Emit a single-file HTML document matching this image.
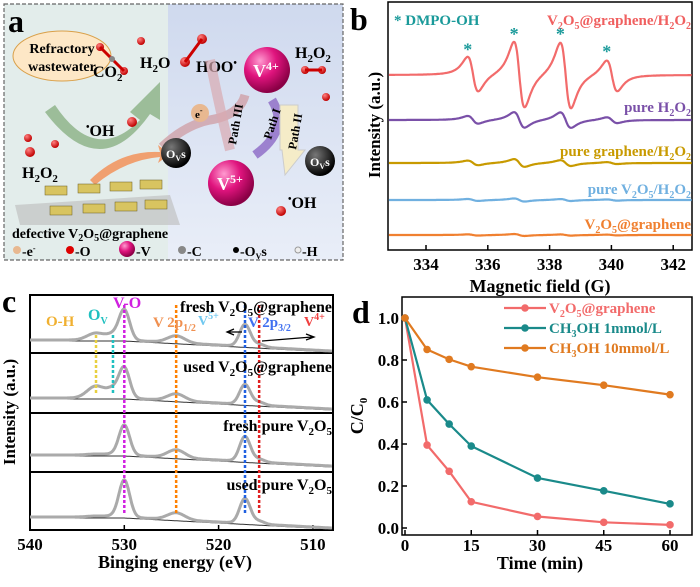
<!DOCTYPE html>
<html><head><meta charset="utf-8"><style>
body{margin:0;background:#fff}
svg{font-family:"Liberation Serif",serif;font-weight:bold}
</style></head><body>
<svg id="fig" width="700" height="582" viewBox="0 0 700 582" xmlns="http://www.w3.org/2000/svg" font-weight="bold">
<defs>
<radialGradient id="vg" cx="35%" cy="30%" r="70%"><stop offset="0" stop-color="#ff9ad0"/><stop offset="0.5" stop-color="#e0147e"/><stop offset="1" stop-color="#8a0045"/></radialGradient>
<radialGradient id="og" cx="35%" cy="30%" r="70%"><stop offset="0" stop-color="#ff8080"/><stop offset="1" stop-color="#c00000"/></radialGradient>
<radialGradient id="bg" cx="35%" cy="30%" r="70%"><stop offset="0" stop-color="#777"/><stop offset="1" stop-color="#000"/></radialGradient>
<linearGradient id="rb" x1="0" y1="0" x2="0" y2="1"><stop offset="0" stop-color="#cfd9ee"/><stop offset="1" stop-color="#e9eef8"/></linearGradient>
</defs>
<!-- Panel a -->
<g>
<rect x="4" y="4" width="164" height="256" fill="#e3edeb"/>
<rect x="168" y="4" width="175" height="256" fill="url(#rb)"/>
<rect x="4" y="4" width="339" height="256" fill="none" stroke="#666" stroke-dasharray="4,2" stroke-width="1.2"/>
<text x="8" y="32" font-size="32">a</text>
<ellipse cx="62" cy="56" rx="49" ry="25" fill="#fde7c6" stroke="#d9a04a"/>
<text x="62" y="53" font-size="14" text-anchor="middle">Refractory</text>
<text x="62" y="71" font-size="14" text-anchor="middle">wastewater</text>
<path d="M55,105 Q95,165 140,120 L130,112 L160,82 L160,120 L150,114 Q100,185 45,112 Z" fill="#8fb48b" opacity="0.85"/>
<path d="M90,180 Q120,150 160,152 L158,145 L170,154 L158,163 L160,157 Q125,160 95,185 Z" fill="#f0a070"/>
<text x="93" y="77" font-size="16">CO<tspan font-size="11" dy="4">2</tspan></text>
<text x="140" y="68" font-size="16">H<tspan font-size="11" dy="4">2</tspan><tspan dy="-4">O</tspan></text>
<text x="196" y="72" font-size="16">HOO<tspan font-size="10" dy="-6">•</tspan></text>
<text x="86" y="136" font-size="16"><tspan font-size="10" dy="-6">•</tspan><tspan dy="6">OH</tspan></text>
<text x="22" y="178" font-size="16">H<tspan font-size="11" dy="4">2</tspan><tspan dy="-4">O</tspan><tspan font-size="11" dy="4">2</tspan></text>
<text x="295" y="58" font-size="16">H<tspan font-size="11" dy="4">2</tspan><tspan dy="-4">O</tspan><tspan font-size="11" dy="4">2</tspan></text>
<text x="288" y="208" font-size="16"><tspan font-size="10" dy="-6">•</tspan><tspan dy="6">OH</tspan></text>
<g fill="url(#og)">
<circle cx="100" cy="47" r="4"/><circle cx="124" cy="71" r="4"/><circle cx="141" cy="41" r="4"/><circle cx="185" cy="62" r="5"/><circle cx="202" cy="39" r="5"/>
<circle cx="132" cy="122" r="5"/><circle cx="30" cy="152" r="5"/><circle cx="28" cy="138" r="4"/><circle cx="55" cy="144" r="4"/>
<circle cx="305" cy="70" r="4"/><circle cx="322" cy="70" r="4"/><circle cx="326" cy="97" r="4"/><circle cx="281" cy="211" r="5"/>
</g>
<path d="M100,47 L124,71 M185,62 L202,39 M305,70 L322,70" stroke="#c00" stroke-width="3"/>
<circle cx="112" cy="59" r="3" fill="#888"/>
<path d="M162,147 Q185,125 210,120 Q240,115 245,95" stroke="#d0a0a8" stroke-width="9" fill="none" opacity="0.8"/>
<path d="M210,60 Q220,110 230,150" stroke="#d8aab0" stroke-width="10" fill="none" opacity="0.7"/>
<path d="M272,100 Q290,130 255,155" stroke="#9070c8" stroke-width="9" fill="none" opacity="0.85"/>
<path d="M280,105 L298,105 L298,150 L305,150 L285,175 L282,150 L280,150 Z" fill="#f5ecc8" stroke="#ccc"/>
<text transform="translate(236,145) rotate(-80)" font-size="12">Path III</text>
<text transform="translate(271,140) rotate(-72)" font-size="12">Path I</text>
<text transform="translate(296,150) rotate(-80)" font-size="12">Path II</text>
<circle cx="200" cy="113" r="9" fill="#e8b890"/><text x="195" y="118" font-size="11">e<tspan font-size="8" dy="-5">-</tspan></text>
<circle cx="176" cy="153" r="15" fill="url(#bg)"/><text x="166" y="158" font-size="12" fill="#fff">O<tspan font-size="8" dy="3">V</tspan><tspan dy="-3">s</tspan></text>
<circle cx="320" cy="161" r="15" fill="url(#bg)"/><text x="310" y="166" font-size="12" fill="#fff">O<tspan font-size="8" dy="3">V</tspan><tspan dy="-3">s</tspan></text>
<circle cx="267" cy="70" r="23" fill="url(#vg)"/><text x="253" y="77" font-size="18" fill="#fff">V<tspan font-size="12" dy="-7">4+</tspan></text>
<circle cx="231" cy="183" r="23" fill="url(#vg)"/><text x="217" y="190" font-size="18" fill="#fff">V<tspan font-size="12" dy="-7">5+</tspan></text>
<path d="M15,205 L170,195 L180,225 L20,225 Z" fill="#bbb" opacity="0.6"/>
<g fill="#d8c460" stroke="#6a5a20" stroke-width="0.5">
<rect x="45" y="186" width="22" height="9"/><rect x="78" y="184" width="22" height="9"/><rect x="110" y="182" width="22" height="9"/><rect x="140" y="180" width="22" height="9"/>
<rect x="50" y="206" width="22" height="9"/><rect x="83" y="204" width="22" height="9"/><rect x="115" y="202" width="22" height="9"/><rect x="145" y="200" width="22" height="9"/>
</g>
<text x="12" y="238" font-size="14">defective V<tspan font-size="10" dy="3">2</tspan><tspan dy="-3">O</tspan><tspan font-size="10" dy="3">5</tspan><tspan dy="-3">@graphene</tspan></text>
<g font-size="14">
<circle cx="17" cy="250" r="4" fill="#e8b890"/><text x="22" y="256">-e<tspan font-size="8" dy="-5">-</tspan></text>
<circle cx="70" cy="250" r="4" fill="#d00"/><text x="75" y="256">-O</text>
<circle cx="127" cy="249" r="8" fill="url(#vg)"/><text x="136" y="256">-V</text>
<circle cx="182" cy="250" r="4" fill="#888"/><text x="187" y="256">-C</text>
<circle cx="236" cy="250" r="3" fill="#000"/><text x="240" y="256">-O<tspan font-size="8" dy="3">V</tspan><tspan dy="-3">s</tspan></text>
<circle cx="298" cy="250" r="3" fill="#eee" stroke="#999"/><text x="302" y="256">-H</text>
</g>
</g>

<!-- Panel b -->
<g id="pb">
<text x="350" y="30" font-size="32">b</text>
<rect x="388" y="2" width="304" height="248" fill="none" stroke="#000" stroke-width="1.5"/>
<text transform="translate(380,125) rotate(-90)" font-size="17" text-anchor="middle">Intensity (a.u.)</text>
<text x="540" y="292" font-size="18" text-anchor="middle">Magnetic field (G)</text>
<text x="394" y="25" font-size="15" fill="#1a9a9a">* DMPO-OH</text>
<text x="691" y="25" font-size="15" fill="#f06060" text-anchor="end">V<tspan font-size="10" dy="4">2</tspan><tspan dy="-4">O</tspan><tspan font-size="10" dy="4">5</tspan><tspan dy="-4">@graphene/H</tspan><tspan font-size="10" dy="4">2</tspan><tspan dy="-4">O</tspan><tspan font-size="10" dy="4">2</tspan></text>
<text x="691" y="112" font-size="15" fill="#7a50a8" text-anchor="end">pure H<tspan font-size="10" dy="4">2</tspan><tspan dy="-4">O</tspan><tspan font-size="10" dy="4">2</tspan></text>
<text x="691" y="156" font-size="15" fill="#c89a00" text-anchor="end">pure graphene/H<tspan font-size="10" dy="4">2</tspan><tspan dy="-4">O</tspan><tspan font-size="10" dy="4">2</tspan></text>
<text x="691" y="194" font-size="15" fill="#70b0e0" text-anchor="end">pure V<tspan font-size="10" dy="4">2</tspan><tspan dy="-4">O</tspan><tspan font-size="10" dy="4">5</tspan><tspan dy="-4">/H</tspan><tspan font-size="10" dy="4">2</tspan><tspan dy="-4">O</tspan><tspan font-size="10" dy="4">2</tspan></text>
<text x="691" y="229" font-size="15" fill="#f08030" text-anchor="end">V<tspan font-size="10" dy="4">2</tspan><tspan dy="-4">O</tspan><tspan font-size="10" dy="4">5</tspan><tspan dy="-4">@graphene</tspan></text>
</g>

<!-- Panel c -->
<g id="pc">
<text x="2" y="312" font-size="32">c</text>
<text transform="translate(15,412) rotate(-90)" font-size="17" text-anchor="middle">Intensity (a.u.)</text>
<text x="175" y="568" font-size="18" text-anchor="middle">Binging energy (eV)</text>
</g>

<!-- Panel d -->
<g id="pd">
<text x="352" y="323" font-size="32">d</text>
<rect x="402" y="297" width="290" height="238" fill="none" stroke="#000" stroke-width="1.5"/>
<text transform="translate(363,416) rotate(-90)" font-size="18" text-anchor="middle">C/C<tspan font-size="11" dy="4">0</tspan></text>
<text x="540" y="569" font-size="18" text-anchor="middle">Time (min)</text>
</g>
</svg>
<script>
const NS="http://www.w3.org/2000/svg";
function mk(t,a,p){const e=document.createElementNS(NS,t);for(const k in a)e.setAttribute(k,a[k]);p.appendChild(e);return e;}
// ---------- Panel b data ----------
const eprTicks=[334,336,338,340,342];
const eprNames=["V2O5@graphene/H2O2","pure H2O2","pure graphene/H2O2","pure V2O5/H2O2","V2O5@graphene"];
const eprColors=["#f26b6b","#7a50a8","#c89a00","#70b0e0","#f08030"];
const eprOffsets=[75,120,163,200,235];
const eprPeakPos=[335.35,336.85,338.35,339.85];
const eprAmps=[[9,17,17,8],[2,4,4,1.5],[1.2,2,1.5,0.5],[0.5,0.8,0.5,0.3],[0.3,0.5,0.3,0.2]];
const bx=v=>388+(v-332.77)*30.9;
const pb=document.getElementById('pb');
eprTicks.forEach(t=>{
 const l=mk('line',{x1:bx(t),x2:bx(t),y1:250,y2:245,stroke:'#000','stroke-width':1.5},pb);
 
 const tx=mk('text',{x:bx(t),y:270,'font-size':17,'text-anchor':'middle'},pb);tx.textContent=t;
 
});
eprNames.forEach((n,i)=>{
 let d='';
 for(let v=332.8;v<=342.6;v+=0.02){
  let y=0;
  eprPeakPos.forEach((p,j)=>{const u=(v-p-0.17)/0.3;y+=eprAmps[i][j]*(-2*u)/Math.pow(1+u*u,2);});
  d+=(d?'L':'M')+bx(v).toFixed(1)+','+(eprOffsets[i]-y*3).toFixed(1);
 }
 const p=mk('path',{d:d,fill:'none',stroke:eprColors[i],'stroke-width':2.2},pb);
 
});
eprPeakPos.forEach((p,j)=>{
 const s=mk('text',{x:bx(p),y:eprOffsets[0]-eprAmps[0][j]*1.95-2,'font-size':18,fill:'#1a9a9a','text-anchor':'middle'},pb);s.textContent='*';
 
});
// ---------- Panel c data ----------
const xpsTicks=[540,530,520,510];
const xpsNames=["fresh V2O5@graphene","used V2O5@graphene","fresh pure V2O5","used pure V2O5"];
const xpsBase=[340,398,455,517];
const xpsVO=[30,30,30,37];
const xpsOH=[7,12,1,1];
const xpsOv=[5,8,1,1];
const xpsP12=[7,7,8,7];
const xpsP32=[22,20,25,25];
const xpsVlines=[533,531.2,530,524.5,517.2,515.7];
const xpsVcolors=["#e8d040","#20c0c0","#d020e0","#ff8000","#2060e0","#e02020"];
const cx=e=>30+(540-e)*9.43;
const pc=document.getElementById('pc');
mk('rect',{x:30,y:295,width:303,height:235,fill:'none',stroke:'#000','stroke-width':2},pc);
[353,413,472].forEach(y=>mk('line',{x1:30,x2:333,y1:y,y2:y,stroke:'#000','stroke-width':2},pc));
xpsTicks.forEach(t=>{
 const l=mk('line',{x1:cx(t),x2:cx(t),y1:530,y2:525,stroke:'#000','stroke-width':1.5},pc);
 
 const tx=mk('text',{x:cx(t),y:550,'font-size':17,'text-anchor':'middle'},pc);tx.textContent=t;
 
});
const g=(e,c,w)=>Math.exp(-Math.pow((e-c)/w,2));
xpsNames.forEach((n,i)=>{
 let d='',bd='';
 for(let e=540;e>=507.9;e-=0.1){
  const base=xpsBase[i]+(e<530?(530-e)/14*7:0);
  const y=base-xpsVO[i]*g(e,530,0.8)-xpsOH[i]*g(e,533,1.3)-xpsOv[i]*g(e,531.2,0.9)-xpsP12[i]*g(e,524.5,1.3)-xpsP32[i]*g(e,517.2,0.8)-3*g(e,515.7,0.8);
  d+=(d?'L':'M')+cx(e).toFixed(1)+','+y.toFixed(1);
  bd+=(bd?'L':'M')+cx(e).toFixed(1)+','+(base+1).toFixed(1);
 }
 mk('path',{d:bd,fill:'none',stroke:'#333','stroke-width':1},pc);
 const p=mk('path',{d:d,fill:'none',stroke:'#aaa','stroke-width':3},pc);
 
});
xpsVlines.forEach((v,i)=>{
 const l=mk('line',{x1:cx(v),x2:cx(v),y1:i<2?335:305,y2:i<2?395:515,stroke:xpsVcolors[i],'stroke-width':2.5,'stroke-dasharray':'3,2'},pc);
 
});
const lbl=[["fresh V<tspan font-size='11' dy='4'>2</tspan><tspan dy='-4'>O</tspan><tspan font-size='11' dy='4'>5</tspan><tspan dy='-4'>@graphene</tspan>",312],["used V<tspan font-size='11' dy='4'>2</tspan><tspan dy='-4'>O</tspan><tspan font-size='11' dy='4'>5</tspan><tspan dy='-4'>@graphene</tspan>",372],["fresh pure V<tspan font-size='11' dy='4'>2</tspan><tspan dy='-4'>O</tspan><tspan font-size='11' dy='4'>5</tspan>",431],["used pure V<tspan font-size='11' dy='4'>2</tspan><tspan dy='-4'>O</tspan><tspan font-size='11' dy='4'>5</tspan>",490]];
lbl.forEach(a=>{const t=mk('text',{x:332,y:a[1],'font-size':16,'text-anchor':'end'},pc);t.innerHTML=a[0];
 });
const ann=[["V-O",113,308,"#d020e0",16],["O<tspan font-size='10' dy='4'>V</tspan>",88,320,"#20c0c0",16],["O-H",46,326,"#f0b030",15],["V 2p<tspan font-size='10' dy='4'>1/2</tspan>",153,327,"#f09050",15],["V<tspan font-size='10' dy='-6'>5+</tspan>",198,325,"#70c8f0",14],["V 2p<tspan font-size='10' dy='4'>3/2</tspan>",248,327,"#4070f0",15],["V<tspan font-size='10' dy='-6'>4+</tspan>",304,326,"#f04040",14]];
ann.forEach(a=>{const t=mk('text',{x:a[1],y:a[2],'font-size':a[4],fill:a[3]},pc);t.innerHTML=a[0];
 });
mk('path',{d:'M262,341 L312,337 M306,334 L314,337 L306,340 M242,332 L228,332 M234,329 L227,332 L234,335',stroke:'#000','stroke-width':1.3,fill:'none'},pc);
// ---------- Panel d data ----------
const times=[0,5,10,15,30,45,60];
const seriesNames=["V2O5@graphene","CH3OH 1mmol/L","CH3OH 10mmol/L"];
const seriesColors=["#f26b6b","#1a8a8a","#e07a20"];
const valsV2O5=[1,0.395,0.27,0.125,0.055,0.027,0.015];
const valsMeOH1=[1,0.61,0.495,0.39,0.238,0.177,0.115];
const valsMeOH10=[1,0.85,0.803,0.768,0.718,0.68,0.635];
const dXTicks=[0,15,30,45,60];
const dYTicks=[0,0.2,0.4,0.6,0.8,1.0];
const dx=t=>405+t*(265/60);
const dy=v=>528-v*210;
const pd=document.getElementById('pd');
dXTicks.forEach(t=>{
 const l=mk('line',{x1:dx(t),x2:dx(t),y1:535,y2:530,stroke:'#000','stroke-width':1.5},pd);
 
 const tx=mk('text',{x:dx(t),y:551,'font-size':17,'text-anchor':'middle'},pd);tx.textContent=t;
 
});
dYTicks.forEach(v=>{
 const l=mk('line',{x1:402,x2:407,y1:dy(v),y2:dy(v),stroke:'#000','stroke-width':1.5},pd);
 
 const tx=mk('text',{x:399,y:dy(v)+6,'font-size':17,'text-anchor':'end'},pd);tx.textContent=v.toFixed(1);
 
});
[valsV2O5,valsMeOH1,valsMeOH10].forEach((vals,i)=>{
 const pts=vals.map((v,j)=>dx(times[j]).toFixed(1)+','+dy(v).toFixed(1)).join(' ');
 const pl=mk('polyline',{points:pts,fill:'none',stroke:seriesColors[i],'stroke-width':2.2},pd);
 
 vals.forEach((v,j)=>{const c=mk('circle',{cx:dx(times[j]),cy:dy(v),r:3.8,fill:seriesColors[i]},pd);
  });
 const ly=308+i*20;
 const ll=mk('line',{x1:504,x2:546,y1:ly,y2:ly,stroke:seriesColors[i],'stroke-width':2.2},pd);
 
 mk('circle',{cx:525,cy:ly,r:3.8,fill:seriesColors[i]},pd);
 const t=mk('text',{x:549,y:ly+5,'font-size':15,fill:seriesColors[i]},pd);
 
 t.innerHTML=["V<tspan font-size='10' dy='4'>2</tspan><tspan dy='-4'>O</tspan><tspan font-size='10' dy='4'>5</tspan><tspan dy='-4'>@graphene</tspan>","CH<tspan font-size='10' dy='4'>3</tspan><tspan dy='-4'>OH 1mmol/L</tspan>","CH<tspan font-size='10' dy='4'>3</tspan><tspan dy='-4'>OH 10mmol/L</tspan>"][i];
});
</script>
</body></html>
